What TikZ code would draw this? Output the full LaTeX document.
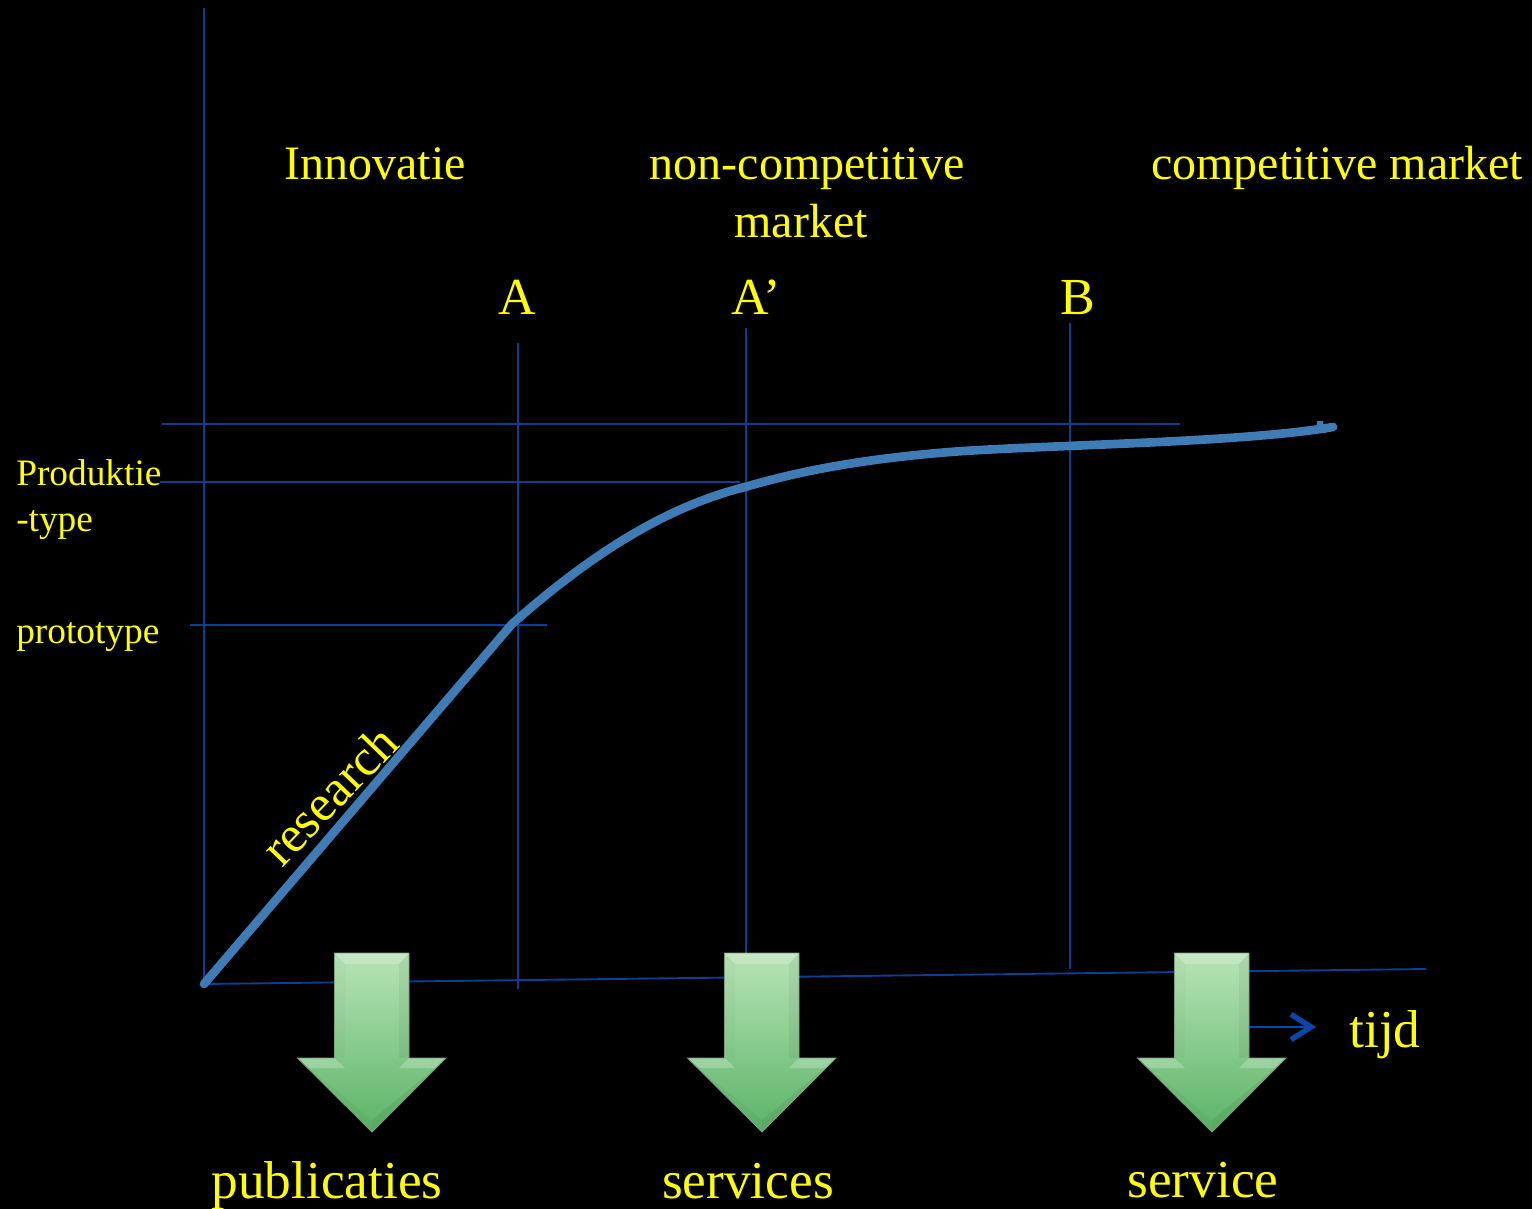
\documentclass[tikz,border=0pt]{standalone}
\usepackage{fontspec}
\setmainfont{Liberation Serif}
\usetikzlibrary{arrows.meta}
\definecolor{axisblue}{HTML}{0B3F96}
\definecolor{tipblue}{HTML}{0A47A8}
\definecolor{curveblue}{HTML}{3F7CB5}
\definecolor{labelyellow}{HTML}{FFFF00}
\definecolor{arrowtop}{HTML}{B8E4B6}
\definecolor{arrowbot}{HTML}{5BB368}
\definecolor{arrowedge}{HTML}{7F9F82}
\tikzset{
  x=0.75pt,y=-0.75pt,
  guide/.style={draw=axisblue,line width=1.4pt},
  curveline/.style={draw=curveblue,line width=6.5pt,line cap=round,line join=round},
  toplabel/.style={text=labelyellow,font=\fontsize{36}{40}\selectfont,inner sep=0pt,anchor=base,align=center},
  biglabel/.style={text=labelyellow,font=\fontsize{40}{44}\selectfont,inner sep=0pt,anchor=base,align=center},
  letterlabel/.style={text=labelyellow,font=\fontsize{39}{44}\selectfont,inner sep=0pt,anchor=base,align=center},
  slantlabel/.style={text=labelyellow,font=\fontsize{38.5}{44}\selectfont,inner sep=0pt,anchor=center,rotate=46},
  midlabel/.style={text=labelyellow,font=\fontsize{28}{35}\selectfont,inner sep=0pt,anchor=base west,align=left},
}
% one bevelled green down arrow centred on x=#1
\newcommand{\greenarrow}[1]{%
  \begin{scope}[shift={(#1,0)}]
    \shade[top color=arrowtop,bottom color=arrowbot]
      (-37.5,953)--(37,953)--(37,1058)--(74,1058)--(0,1132)--(-74.5,1058)--(-37.5,1058)--cycle;
    \fill[white,opacity=.18] (-37.5,953)--(37,953)--(27,964)--(-27,964)--cycle;
    \fill[black,opacity=.02] (-37.5,953)--(-27,964)--(-27,1058)--(-37.5,1058)--cycle;
    \fill[black,opacity=.05] (37,953)--(27,964)--(27,1058)--(37,1058)--cycle;
    \fill[white,opacity=.22] (-74.5,1058)--(-37.5,1058)--(-27,1068)--(-63,1068)--cycle;
    \fill[white,opacity=.22] (74,1058)--(37,1058)--(27,1068)--(63,1068)--cycle;
    \fill[black,opacity=.06] (74,1058)--(63,1068)--(0,1120)--(0,1132)--cycle;
    \fill[black,opacity=.03] (-74.5,1058)--(-63,1068)--(0,1120)--(0,1132)--cycle;
    \draw[draw=arrowedge,line width=.6pt]
      (-37.5,953)--(37,953)--(37,1058)--(74,1058)--(0,1132)--(-74.5,1058)--(-37.5,1058)--cycle;
  \end{scope}}
\begin{document}
\begin{tikzpicture}
\useasboundingbox (0,0) rectangle (1532,1209);
\fill[black] (0,0) rectangle (1532,1209);
% named end points
\coordinate (yTop) at (204,8);
\coordinate (yBot) at (204,984);
\coordinate (xEnd) at (1426,969);
\coordinate (topL) at (162,424);
\coordinate (topR) at (1180,424);
\coordinate (prodL) at (160,482);
\coordinate (prodR) at (740,482);
\coordinate (protoL) at (190,625);
\coordinate (protoR) at (547,625);
\coordinate (aTop) at (518,343);
\coordinate (aBot) at (518,989);
\coordinate (apTop) at (746,328);
\coordinate (apBot) at (746,955);
\coordinate (bTop) at (1070,323);
\coordinate (bBot) at (1070,969);
\coordinate (tijdFrom) at (1245,1027);
\coordinate (tijdTo) at (1316,1027);
% guides
\draw[guide] (yTop)--(yBot);
\draw[guide] (yBot)--(xEnd);
\draw[guide] (topL)--(topR);
\draw[guide] (prodL)--(prodR);
\draw[guide] (protoL)--(protoR);
\draw[guide] (aTop)--(aBot);
\draw[guide] (apTop)--(apBot);
\draw[guide] (bTop)--(bBot);
\draw[draw=tipblue,line width=1.3pt,-{Straight Barb[length=15pt,width=19pt,line width=4pt]}] (tijdFrom)--(tijdTo);
% curve
\draw[curveline] (yBot)--(512,624)
  .. controls (590,555) and (665,507) .. (745,487)
  .. controls (790,474) and (850,460) .. (950,452)
  .. controls (1040,445) and (1240,443) .. (1333,427);
\fill[curveblue] (1317,428) -- (1317,421) -- (1323,421) -- (1323,424) -- (1336,426) -- (1325,433) -- cycle;
% arrows
\greenarrow{372}
\greenarrow{762}
\greenarrow{1212}
% labels
\node[toplabel] (innov) at (375,180) {Innovatie};
\node[toplabel] (noncomp) at (807,180) {non-competitive};
\node[toplabel] (mkt) at (801,238) {market};
\node[toplabel] (comp) at (1337,180) {competitive market};
\node[letterlabel] (lA) at (517,314) {A};
\node[letterlabel] (lAp) at (756,314) {A’};
\node[letterlabel] (lB) at (1078,314) {B};
\node[midlabel] (prod) at (16,485) {Produktie};
\node[midlabel] (ptype) at (16,531) {-type};
\node[midlabel] (proto) at (16,643) {prototype};
\node[slantlabel] (res) at (329,795) {research};
\node[biglabel] (tijd) at (1385,1047) {tijd};
\node[biglabel] (pub) at (327,1198) {publicaties};
\node[biglabel] (serv) at (748,1198) {services};
\node[biglabel] (serv2) at (1203,1197) {service};
\end{tikzpicture}
\end{document}
